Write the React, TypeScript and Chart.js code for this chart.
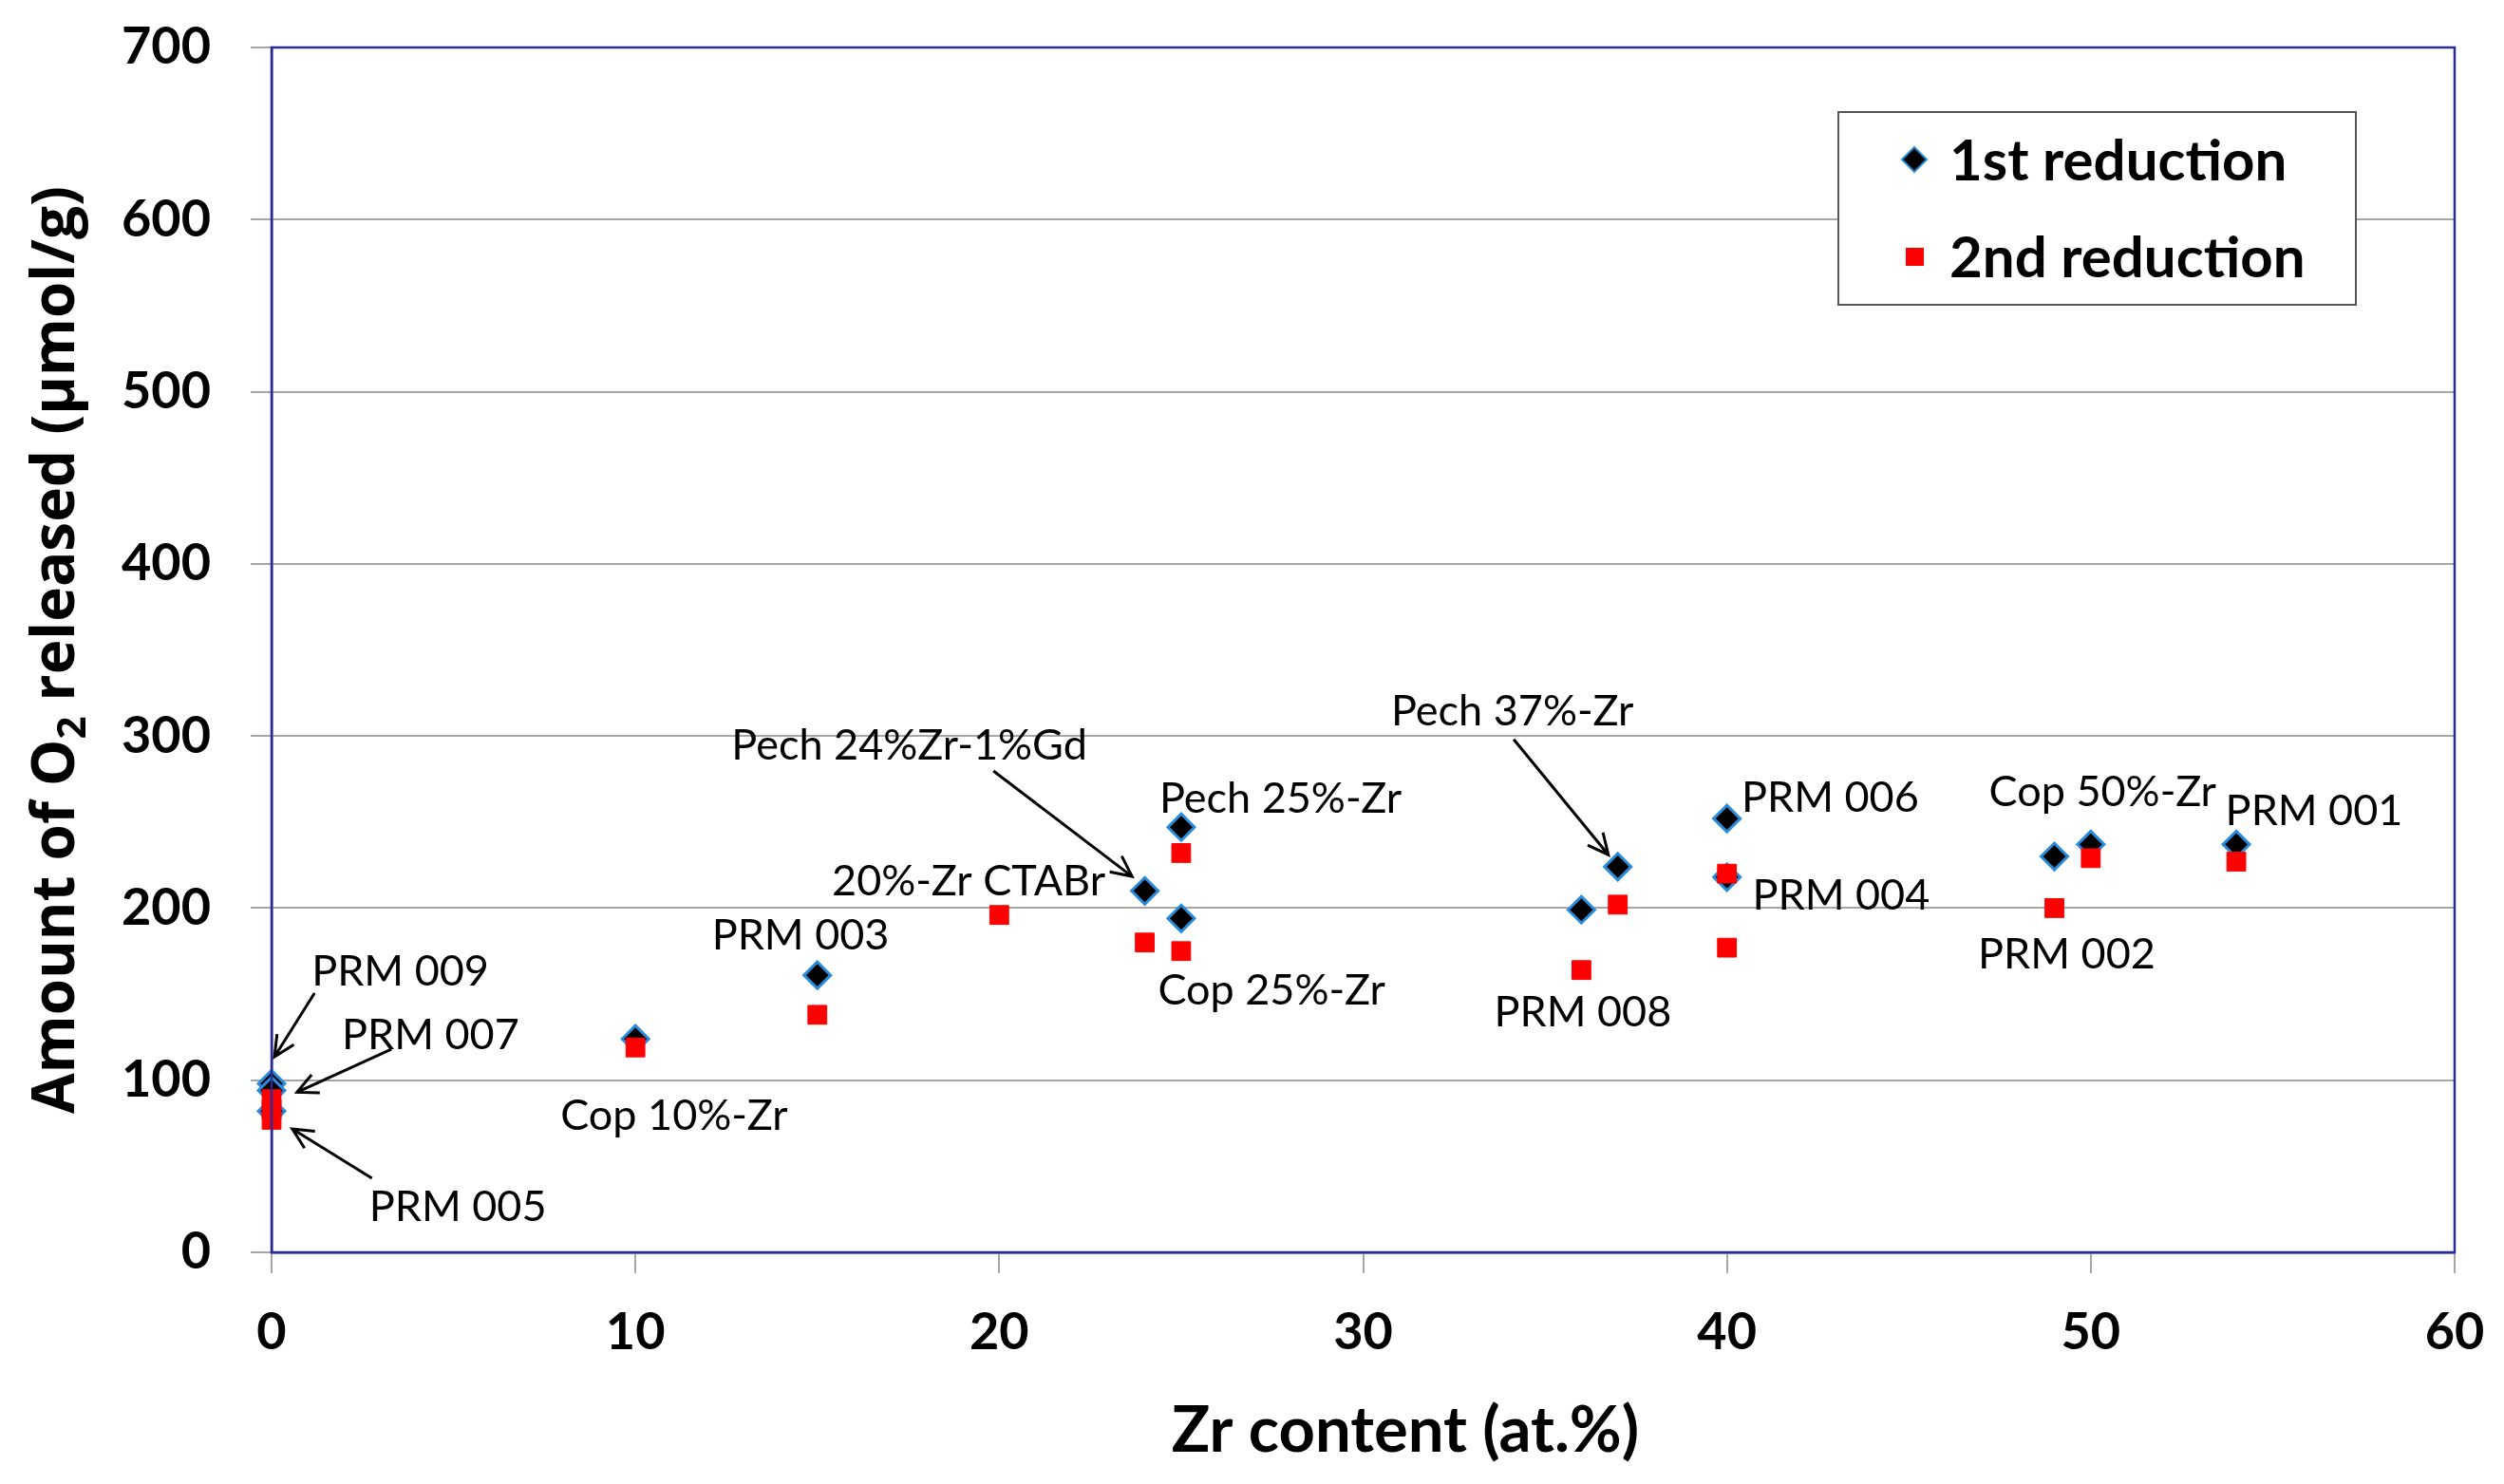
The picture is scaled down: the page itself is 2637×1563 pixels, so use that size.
import { useEffect, useRef } from 'react'
import { Chart, registerables } from 'chart.js'
import type { Plugin } from 'chart.js'

Chart.register(...registerables)

// 1st reduction (x = Zr at.%, y = µmol O2 / g)
const firstX = [0, 0, 0, 10, 15, 24, 25, 25, 36, 37, 40, 40, 49, 50, 54]
const firstY = [98, 94, 82, 124, 161, 210, 247, 194, 199, 224, 252, 218, 230, 237, 237]

// 2nd reduction
const secondX = [0, 0, 0, 10, 15, 20, 24, 25, 25, 36, 37, 40, 40, 49, 50, 54]
const secondY = [89, 83, 77, 119, 138, 196, 180, 232, 175, 164, 202, 220, 177, 200, 229, 227]

const seriesNames = ['1st reduction', '2nd reduction']

const xMin = 0
const xMax = 60
const xStep = 10
const yMin = 0
const yMax = 700
const yStep = 100

// sample labels, anchored in data units (left edge, vertical middle)
const sampleNames = [
  'PRM 009', 'PRM 007', 'PRM 005', 'Cop 10%-Zr', 'PRM 003', 'Pech 24%Zr-1%Gd',
  '20%-Zr CTABr', 'Pech 25%-Zr', 'Cop 25%-Zr', 'Pech 37%-Zr', 'PRM 008',
  'PRM 006', 'PRM 004', 'Cop 50%-Zr', 'PRM 002', 'PRM 001'
]
const labelX = [1.1, 1.93, 2.68, 7.94, 12.1, 12.64, 15.4, 24.4, 24.36, 30.77, 33.6, 40.4, 40.7, 47.2, 46.9, 53.7]
const labelY = [164, 127, 27, 80, 185, 295, 216, 264, 153, 315, 140, 265, 208, 268, 174, 257]

// arrows: from (x0,y0) to (x1,y1) in data units
const arrowX0 = [1.18, 3.29, 2.76, 19.84, 34.14]
const arrowY0 = [150.6, 118, 43, 279.7, 298]
const arrowX1 = [0.08, 0.7, 0.57, 23.65, 36.74]
const arrowY1 = [113.6, 93, 71.7, 218.4, 231]

const NAVY = '#2b2b96'
const GRID = '#a6a6a6'
const DIAMOND_EDGE = '#2a8bdb'
const RED = '#ff0000'

const overlayPlugin: Plugin<'scatter'> = {
  id: 'overlay',
  afterDraw(chart) {
    const { ctx, chartArea } = chart
    const xs = chart.scales.x
    const ys = chart.scales.y
    ctx.save()

    // frame around plot area
    ctx.strokeStyle = NAVY
    ctx.lineWidth = 2.5
    ctx.strokeRect(chartArea.left, chartArea.top, chartArea.right - chartArea.left, chartArea.bottom - chartArea.top)

    // sample labels
    ctx.fillStyle = '#000'
    ctx.font = '45px Lato'
    ctx.textAlign = 'left'
    ctx.textBaseline = 'alphabetic'
    sampleNames.forEach((name, i) => {
      ctx.fillText(name, xs.getPixelForValue(labelX[i]), ys.getPixelForValue(labelY[i]) + 16)
    })

    // arrows
    ctx.strokeStyle = '#000'
    ctx.lineWidth = 3
    arrowX0.forEach((_, i) => {
      const x0 = xs.getPixelForValue(arrowX0[i])
      const y0 = ys.getPixelForValue(arrowY0[i])
      const x1 = xs.getPixelForValue(arrowX1[i])
      const y1 = ys.getPixelForValue(arrowY1[i])
      const a = Math.atan2(y1 - y0, x1 - x0)
      const head = 24
      ctx.beginPath()
      ctx.moveTo(x0, y0)
      ctx.lineTo(x1, y1)
      ctx.moveTo(x1 - head * Math.cos(a - 0.45), y1 - head * Math.sin(a - 0.45))
      ctx.lineTo(x1, y1)
      ctx.lineTo(x1 - head * Math.cos(a + 0.45), y1 - head * Math.sin(a + 0.45))
      ctx.stroke()
    })

    // legend box
    ctx.fillStyle = '#fff'
    ctx.fillRect(1936, 118, 545, 203)
    ctx.strokeStyle = '#555'
    ctx.lineWidth = 2
    ctx.strokeRect(1936, 118, 545, 203)
    // diamond
    ctx.beginPath()
    ctx.moveTo(2016, 155)
    ctx.lineTo(2029, 168)
    ctx.lineTo(2016, 181)
    ctx.lineTo(2003, 168)
    ctx.closePath()
    ctx.fillStyle = '#000'
    ctx.fill()
    ctx.strokeStyle = DIAMOND_EDGE
    ctx.lineWidth = 2
    ctx.stroke()
    // square
    ctx.fillStyle = RED
    ctx.fillRect(2007, 261, 19, 19)
    ctx.fillStyle = '#000'
    ctx.font = 'bold 60px Lato'
    ctx.fillText(seriesNames[0], 2053, 190)
    ctx.fillText(seriesNames[1], 2053, 292)

    // axis titles
    ctx.font = 'bold 67px Lato'
    ctx.textAlign = 'center'
    ctx.fillText('Zr content (at.%)', 1480, 1529)

    ctx.translate(78, (chartArea.top + chartArea.bottom) / 2)
    ctx.rotate(-Math.PI / 2)
    const big = 'bold 62px "Open Sans"'
    const small = 'bold 42px "Open Sans"'
    const partA = 'Amount of O'
    const partB = '2'
    const partC = ' released (µmol/g)'
    ctx.font = big
    const wA = ctx.measureText(partA).width
    const wC = ctx.measureText(partC).width
    ctx.font = small
    const wB = ctx.measureText(partB).width
    let cx = -(wA + wB + wC) / 2
    ctx.textAlign = 'left'
    ctx.font = big
    ctx.fillText(partA, cx, 0)
    cx += wA
    ctx.font = small
    ctx.fillText(partB, cx, 12)
    cx += wB
    ctx.font = big
    ctx.fillText(partC, cx, 0)

    ctx.restore()
  }
}

// keep Chart.js from reserving extra room for overhanging tick labels
const noOverhang = (scale: any) => {
  scale.paddingTop = 0
  scale.paddingBottom = 0
  scale.paddingLeft = 0
  scale.paddingRight = 0
}

export default function App() {
  const chartRef = useRef<HTMLCanvasElement>(null)
  const chartInstance = useRef<Chart<'scatter'> | null>(null)

  useEffect(() => {
    if (!chartRef.current) return
    if (chartInstance.current) chartInstance.current.destroy()
    const ctx = chartRef.current.getContext('2d')
    if (!ctx) return

    chartInstance.current = new Chart(ctx, {
      type: 'scatter',
      data: {
        datasets: [
          {
            label: seriesNames[0],
            data: firstX.map((x, i) => ({ x, y: firstY[i] })),
            pointStyle: 'rectRot',
            pointRadius: 14,
            pointBackgroundColor: '#000',
            pointBorderColor: DIAMOND_EDGE,
            pointBorderWidth: 3,
            clip: false,
            order: 2
          },
          {
            label: seriesNames[1],
            data: secondX.map((x, i) => ({ x, y: secondY[i] })),
            pointStyle: 'rect',
            pointRadius: 14,
            pointBackgroundColor: RED,
            pointBorderColor: RED,
            pointBorderWidth: 1,
            clip: false,
            order: 1
          }
        ]
      },
      options: {
        animation: false,
        responsive: false,
        devicePixelRatio: 1,
        layout: { padding: { top: 50, right: 52, left: 0, bottom: 0 } },
        plugins: {
          legend: { display: false },
          tooltip: { enabled: false }
        },
        scales: {
          x: {
            type: 'linear',
            min: xMin,
            max: xMax,
            afterFit: (scale) => { scale.height = 244; noOverhang(scale) },
            ticks: {
              stepSize: xStep,
              color: '#000',
              padding: 30,
              font: { family: 'Lato', size: 54, weight: 'bold' }
            },
            grid: {
              drawOnChartArea: false,
              drawTicks: true,
              tickLength: 22,
              tickColor: GRID,
              lineWidth: 2
            },
            border: { color: NAVY, width: 2.5 }
          },
          y: {
            type: 'linear',
            min: yMin,
            max: yMax,
            afterFit: (scale) => { scale.width = 286; noOverhang(scale) },
            ticks: {
              stepSize: yStep,
              color: '#000',
              padding: 42,
              font: { family: 'Lato', size: 54, weight: 'bold' }
            },
            grid: {
              color: GRID,
              lineWidth: 2,
              tickLength: 22,
              tickColor: GRID
            },
            border: { color: NAVY, width: 2.5 }
          }
        }
      },
      plugins: [overlayPlugin]
    })

    return () => {
      if (chartInstance.current) {
        chartInstance.current.destroy()
        chartInstance.current = null
      }
    }
  }, [])

  return (
    <div style={{ position: 'absolute', left: 0, top: 0, width: 2637, height: 1563, background: '#fff' }}>
      <canvas ref={chartRef} width={2637} height={1563} style={{ width: 2637, height: 1563 }}></canvas>
    </div>
  )
}
